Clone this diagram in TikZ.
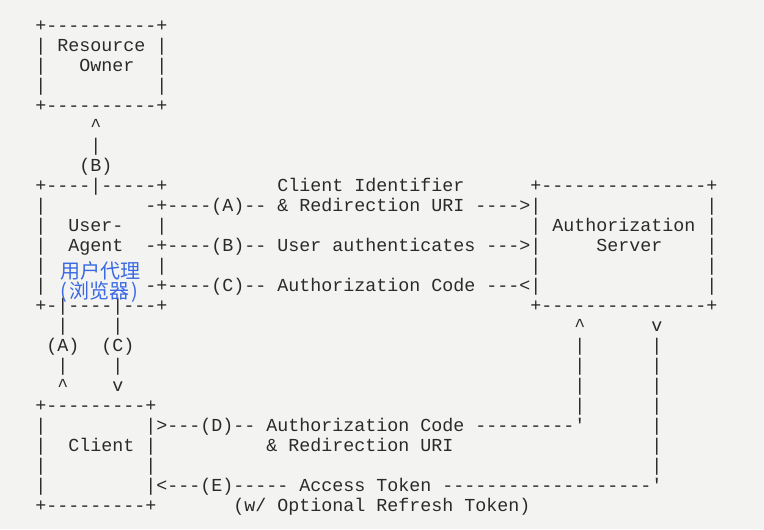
\documentclass[tikz,border=0pt]{standalone}
\usepackage{fontspec}
\setmonofont{Liberation Mono}
\newfontfamily\cjkfont{Noto Sans CJK SC}
\definecolor{paper}{RGB}{243,244,241}
\definecolor{ink}{RGB}{42,42,42}
\definecolor{note}{RGB}{58,104,228}
\tikzset{
  ascii/.style={anchor=base west, inner sep=0pt, text=ink,
    font=\ttfamily\fontsize{13.75pt}{15pt}\selectfont},
  cjknote/.style={anchor=base, inner sep=0pt, text=note,
    font=\cjkfont\fontsize{15pt}{18pt}\selectfont}
}
% one run of monospaced characters: name, column, row, text
\newcommand\cell[4]{\node[ascii] (#1) at ({11*#2-20},{31.7+20*#3}) {#4};}
\begin{document}
\begin{tikzpicture}[x=0.75pt,y=-0.75pt]
\fill[paper] (0,0) rectangle (764,529);
\useasboundingbox (0,0) rectangle (764,529);
% Resource Owner
\cell{ro-top}{5}{0}{+----------+}
\cell{ro-name}{5}{1}{| Resource |}
\cell{ro-l2}{5}{2}{|}
\cell{ro-owner}{9}{2}{Owner}
\cell{ro-r2}{16}{2}{|}
\cell{ro-l3}{5}{3}{|}
\cell{ro-r3}{16}{3}{|}
\cell{ro-bot}{5}{4}{+----------+}
% (B) up to the resource owner
\cell{b-tip}{10}{5}{\textasciicircum}
\cell{b-bar}{10}{6}{|}
\cell{b-label}{9}{7}{(B)}
% User-Agent and Authorization Server
\cell{ua-top}{5}{8}{+----|-----+}
\cell{a-note}{27}{8}{Client Identifier}
\cell{as-top}{50}{8}{+---------------+}
\cell{ua-l9}{5}{9}{|}
\cell{a-flow}{15}{9}{-+----(A)-- \& Redirection URI ---->|}
\cell{as-r9}{66}{9}{|}
\cell{ua-l10}{5}{10}{|}
\cell{ua-user}{8}{10}{User-}
\cell{ua-r10}{16}{10}{|}
\cell{as-name}{50}{10}{| Authorization |}
\cell{ua-l11}{5}{11}{|}
\cell{ua-agent}{8}{11}{Agent}
\cell{b-flow}{15}{11}{-+----(B)-- User authenticates --->|}
\cell{as-server}{56}{11}{Server}
\cell{as-r11}{66}{11}{|}
\cell{ua-l12}{5}{12}{|}
\cell{ua-r12}{16}{12}{|}
\cell{as-l12}{50}{12}{|}
\cell{as-r12}{66}{12}{|}
\cell{ua-l13}{5}{13}{|}
\cell{c-flow}{15}{13}{-+----(C)-- Authorization Code ---<|}
\cell{as-r13}{66}{13}{|}
\cell{ua-bot}{5}{14}{+-|----|---+}
\cell{as-bot}{50}{14}{+---------------+}
% (A), (C) between user-agent and client; (D), (E) legs
\cell{a-15}{7}{15}{|}
\cell{c-15}{12}{15}{|}
\cell{d-tip}{54}{15}{\textasciicircum}
\cell{e-tail}{61}{15}{v}
\cell{a-label}{6}{16}{(A)}
\cell{c-label}{11}{16}{(C)}
\cell{d-16}{54}{16}{|}
\cell{e-16}{61}{16}{|}
\cell{a-17}{7}{17}{|}
\cell{c-17}{12}{17}{|}
\cell{d-17}{54}{17}{|}
\cell{e-17}{61}{17}{|}
\cell{a-tip}{7}{18}{\textasciicircum}
\cell{c-tip}{12}{18}{v}
\cell{d-18}{54}{18}{|}
\cell{e-18}{61}{18}{|}
% Client
\cell{cl-top}{5}{19}{+---------+}
\cell{d-19}{54}{19}{|}
\cell{e-19}{61}{19}{|}
\cell{cl-l20}{5}{20}{|}
\cell{d-flow}{15}{20}{|>---(D)-- Authorization Code ---------'}
\cell{e-20}{61}{20}{|}
\cell{cl-l21}{5}{21}{|}
\cell{cl-name}{8}{21}{Client |}
\cell{d-note}{26}{21}{\& Redirection URI}
\cell{e-21}{61}{21}{|}
\cell{cl-l22}{5}{22}{|}
\cell{cl-r22}{15}{22}{|}
\cell{e-22}{61}{22}{|}
\cell{cl-l23}{5}{23}{|}
\cell{e-flow}{15}{23}{|<---(E)----- Access Token -------------------'}
\cell{cl-bot}{5}{24}{+---------+}
\cell{e-note}{23}{24}{(w/ Optional Refresh Token)}
% annotation on the user-agent
\node[cjknote] (ua-cn1) at (100,278) {用户代理};
\node[cjknote] (ua-cn2) at (99,298) {(\kern1.5pt 浏览器\kern1.5pt)};
\end{tikzpicture}
\end{document}
